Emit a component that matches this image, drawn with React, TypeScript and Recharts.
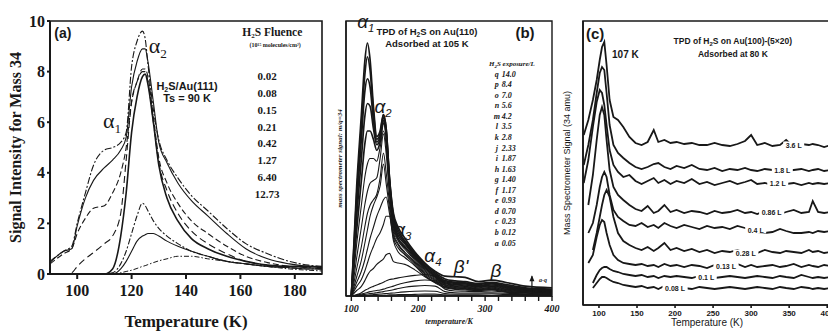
import { LineChart, Line, XAxis, YAxis, ReferenceArea, ReferenceDot, ReferenceLine } from 'recharts'

const ink = '#181818'
const serif = '"Liberation Serif", "Times New Roman", serif'
const sans = '"Liberation Sans", Arial, sans-serif'

// ---- (a) H2S/Au(111), Ts = 90 K ----
const tempA = [90, 95, 98, 100, 103, 106, 110, 113, 116, 118, 120, 122, 124, 125, 126, 128, 130, 133, 137, 142, 148, 155, 162, 170, 178, 185, 190]
const fluenceA = ['0.02', '0.08', '0.15', '0.21', '0.42', '1.27', '6.40', '12.73']
const a1273 = [0.5, 0.9, 1.1, 2.0, 3.2, 4.3, 4.9, 5.0, 5.2, 5.6, 8.2, 9.2, 9.6, 9.3, 8.3, 6.5, 5.3, 4.5, 3.8, 3.1, 2.5, 1.8, 1.2, 0.8, 0.5, 0.35, 0.3]
const a640 = [0.45, 0.9, 1.0, 1.9, 3.0, 3.7, 4.2, 4.5, 4.9, 5.4, 7.4, 8.4, 8.9, 8.9, 8.4, 6.8, 5.2, 4.4, 3.6, 2.9, 2.3, 1.6, 1.0, 0.6, 0.4, 0.3, 0.28]
const a127 = [0.4, 0.8, 1.0, 1.6, 2.2, 2.6, 2.7, 3.2, 4.0, 5.0, 6.8, 7.6, 8.1, 8.1, 7.8, 6.2, 4.6, 3.6, 2.8, 2.1, 1.6, 1.1, 0.7, 0.45, 0.3, 0.25, 0.2]
const a042 = [0, 0, 0.05, 0.3, 0.6, 0.85, 1.2, 1.5, 2.4, 4.5, 6.8, 7.6, 8.0, 8.0, 7.6, 6.0, 4.4, 3.3, 2.4, 1.7, 1.2, 0.8, 0.5, 0.35, 0.3, 0.25, 0.2]
const a021 = [0, 0, 0, 0, 0, 0, 0, 0.2, 1.5, 3.2, 5.6, 7.0, 7.8, 7.9, 7.5, 6.0, 4.3, 3.0, 2.1, 1.4, 1.0, 0.7, 0.5, 0.35, 0.3, 0.3, 0.25]
const a015 = [0, 0, 0, 0, 0, 0, 0, 0.05, 0.4, 0.9, 1.6, 2.3, 2.8, 2.7, 2.5, 2.1, 1.8, 1.5, 1.2, 0.9, 0.7, 0.5, 0.4, 0.3, 0.25, 0.2, 0.2]
const a008 = [0, 0, 0, 0, 0, 0, 0, 0, 0.2, 0.5, 0.9, 1.3, 1.5, 1.55, 1.6, 1.6, 1.5, 1.3, 1.1, 0.9, 0.7, 0.5, 0.4, 0.3, 0.25, 0.2, 0.2]
const a002 = [0, 0, 0, 0, 0, 0, 0, 0, 0.05, 0.1, 0.15, 0.22, 0.3, 0.33, 0.37, 0.45, 0.52, 0.6, 0.7, 0.7, 0.6, 0.5, 0.4, 0.3, 0.2, 0.15, 0.12]

// ---- (b) H2S on Au(110), adsorbed at 105 K ----
const tempB = [100, 108, 115, 120, 124, 128, 133, 138, 143, 148, 152, 157, 163, 170, 180, 195, 210, 225, 240, 255, 270, 290, 310, 330, 360, 400]
const letterB = ['q', 'p', 'o', 'n', 'm', 'l', 'k', 'j', 'i', 'h', 'g', 'f', 'e', 'd', 'c', 'b', 'a']
const exposureB = ['14.0', '8.4', '7.0', '5.6', '4.2', '3.5', '2.8', '2.33', '1.87', '1.63', '1.40', '1.17', '0.93', '0.70', '0.23', '0.12', '0.05']
const bq = [0, 4.0, 6.6, 8.5, 9.2, 8.6, 6.9, 5.8, 6.0, 6.6, 6.1, 4.3, 3.0, 2.5, 2.1, 1.6, 1.2, 0.9, 0.72, 0.7, 0.68, 0.52, 0.58, 0.5, 0.36, 0.3]
const bp = [0, 3.7, 6.2, 8.0, 8.7, 8.2, 6.7, 5.7, 5.9, 6.6, 6.1, 4.3, 2.9, 2.4, 2.0, 1.55, 1.15, 0.85, 0.62, 0.55, 0.52, 0.45, 0.5, 0.42, 0.3, 0.25]
const bo = [0, 3.3, 5.7, 7.4, 7.9, 7.6, 6.4, 5.6, 5.8, 6.5, 6.0, 4.2, 2.8, 2.3, 1.95, 1.5, 1.1, 0.8, 0.56, 0.5, 0.48, 0.42, 0.47, 0.38, 0.27, 0.22]
const bn = [0, 2.9, 5.0, 6.5, 7.0, 6.9, 6.1, 5.5, 5.7, 6.4, 5.9, 4.1, 2.7, 2.2, 1.9, 1.45, 1.05, 0.75, 0.52, 0.46, 0.44, 0.38, 0.44, 0.35, 0.25, 0.2]
const bm = [0, 2.4, 4.2, 5.5, 6.0, 6.0, 5.7, 5.3, 5.6, 6.3, 5.8, 4.0, 2.6, 2.1, 1.8, 1.4, 1.0, 0.72, 0.48, 0.42, 0.4, 0.35, 0.4, 0.32, 0.23, 0.18]
const bl = [0, 1.9, 3.3, 4.3, 4.8, 5.0, 5.0, 4.9, 5.4, 6.0, 5.5, 3.9, 2.5, 2.05, 1.75, 1.35, 0.95, 0.68, 0.45, 0.4, 0.37, 0.33, 0.37, 0.3, 0.21, 0.16]
const bk = [0, 1.4, 2.5, 3.3, 3.8, 4.1, 4.2, 4.3, 5.0, 5.9, 5.2, 3.7, 2.4, 2.0, 1.7, 1.3, 0.9, 0.64, 0.42, 0.37, 0.35, 0.3, 0.35, 0.28, 0.2, 0.15]
const bj = [0, 1.0, 1.8, 2.5, 3.0, 3.3, 3.5, 3.7, 4.3, 5.2, 4.5, 3.4, 2.3, 1.9, 1.6, 1.25, 0.85, 0.6, 0.4, 0.35, 0.33, 0.28, 0.32, 0.26, 0.18, 0.14]
const bi = [0, 0.7, 1.3, 1.9, 2.4, 2.9, 3.3, 3.6, 4.0, 4.8, 4.1, 3.2, 2.2, 1.85, 1.55, 1.2, 0.8, 0.56, 0.38, 0.33, 0.31, 0.26, 0.3, 0.24, 0.17, 0.13]
const bh = [0, 0.5, 0.9, 1.3, 1.7, 2.1, 2.5, 2.9, 3.2, 3.5, 3.6, 3.0, 2.1, 1.75, 1.5, 1.15, 0.75, 0.52, 0.35, 0.31, 0.29, 0.24, 0.28, 0.22, 0.16, 0.12]
const bg = [0, 0.35, 0.6, 0.9, 1.2, 1.5, 1.8, 2.1, 2.3, 2.6, 2.9, 2.9, 2.0, 1.6, 1.4, 1.1, 0.72, 0.5, 0.33, 0.29, 0.27, 0.23, 0.26, 0.2, 0.15, 0.11]
const bf = [0, 0.2, 0.35, 0.55, 0.75, 0.9, 1.0, 1.15, 1.25, 1.35, 1.5, 1.55, 1.25, 1.2, 1.15, 0.95, 0.7, 0.48, 0.3, 0.27, 0.25, 0.21, 0.24, 0.18, 0.13, 0.1]
const be = [0, 0.05, 0.12, 0.2, 0.25, 0.3, 0.35, 0.4, 0.45, 0.5, 0.55, 0.6, 0.62, 0.66, 0.7, 0.75, 0.78, 0.7, 0.3, 0.24, 0.22, 0.2, 0.22, 0.16, 0.12, 0.1]
const bd = [0, 0.03, 0.07, 0.1, 0.13, 0.16, 0.18, 0.2, 0.22, 0.25, 0.28, 0.32, 0.36, 0.42, 0.48, 0.55, 0.58, 0.55, 0.25, 0.18, 0.17, 0.16, 0.18, 0.14, 0.1, 0.08]
const bc = [0, 0.02, 0.04, 0.06, 0.07, 0.09, 0.1, 0.12, 0.14, 0.16, 0.18, 0.2, 0.23, 0.27, 0.32, 0.36, 0.38, 0.36, 0.16, 0.12, 0.11, 0.11, 0.12, 0.1, 0.08, 0.06]
const bb = [0, 0, 0.02, 0.03, 0.03, 0.04, 0.05, 0.06, 0.07, 0.08, 0.09, 0.1, 0.11, 0.13, 0.15, 0.17, 0.18, 0.17, 0.09, 0.07, 0.07, 0.07, 0.08, 0.06, 0.05, 0.05]
const ba = [0, 0, 0, 0.01, 0.01, 0.02, 0.02, 0.02, 0.03, 0.03, 0.03, 0.04, 0.04, 0.05, 0.05, 0.06, 0.07, 0.07, 0.04, 0.03, 0.03, 0.03, 0.03, 0.03, 0.02, 0.02]

// ---- (c) H2S on Au(100)-(5x20), adsorbed at 80 K (offset traces) ----
const tempC = [80, 86, 92, 97, 101, 104, 107, 110, 114, 119, 125, 132, 140, 148, 156, 164, 172, 178, 186, 194, 202, 212, 222, 232, 242, 252, 262, 272, 282, 292, 300, 308, 318, 328, 338, 346, 356, 366, 376, 381, 388, 396, 405]
const doseC = ['3.6 L', '1.8 L', '1.2 L', '0.86 L', '0.4 L', '0.28 L', '0.13 L', '0.1 L', '0.08 L']
const doseLabelTemp = [356, 341, 335, 327, 306, 293, 267, 241, 200]
const doseLabelLevel = [160, 135, 122, 93, 75, 52, 39, 28, 17]
const c36 = [170, 185, 205, 225, 245, 258, 263, 240, 205, 188, 185, 178, 168, 162, 160, 163, 175, 163, 165, 162, 163, 161, 162, 160, 160, 162, 160, 159, 161, 164, 170, 160, 162, 159, 160, 165, 158, 161, 160, 161, 160, 158, 160]
const c18 = [140, 160, 185, 212, 232, 238, 235, 212, 180, 160, 152, 147, 142, 138, 136, 138, 141, 142, 138, 136, 139, 137, 140, 136, 135, 137, 134, 136, 135, 137, 135, 134, 136, 135, 137, 134, 135, 136, 134, 135, 136, 134, 135]
const c12 = [122, 145, 178, 203, 215, 212, 200, 180, 155, 140, 133, 128, 130, 124, 121, 124, 127, 122, 125, 121, 124, 122, 126, 121, 123, 120, 122, 124, 121, 123, 125, 121, 122, 120, 123, 121, 122, 120, 122, 121, 122, 121, 122]
const c086 = [null, 100, 130, 165, 190, 198, 190, 165, 135, 118, 110, 105, 100, 96, 94, 99, 92, 94, 100, 93, 95, 92, 94, 93, 91, 94, 92, 93, 95, 92, 93, 91, 94, 92, 91, 93, 95, 92, 93, 104, 93, 92, 93]
const c04 = [null, 72, 82, 100, 118, 128, 133, 128, 110, 95, 88, 84, 80, 79, 82, 78, 80, 77, 82, 79, 77, 80, 78, 76, 79, 77, 78, 76, 79, 77, 75, 73, 72, 73, 76, 74, 72, 72, 73, 72, 74, 73, 74]
const c028 = [null, null, 55, 72, 88, 100, 110, 115, 108, 88, 72, 64, 60, 57, 55, 58, 54, 57, 62, 55, 57, 54, 56, 53, 55, 52, 54, 53, 55, 52, 54, 52, 55, 53, 52, 54, 53, 52, 55, 53, 54, 52, 53]
const c013 = [null, 42, 50, 68, 80, 85, 83, 72, 60, 50, 45, 42, 41, 40, 41, 39, 40, 38, 41, 39, 40, 38, 40, 39, 37, 40, 38, 39, 41, 38, 40, 38, 39, 40, 38, 39, 41, 38, 40, 39, 38, 40, 39]
const c01 = [null, null, 22, 30, 35, 37, 38, 38, 36, 34, 33, 31, 30, 29, 30, 28, 29, 27, 29, 28, 29, 28, 27, 29, 28, 27, 28, 29, 28, 27, 28, 29, 28, 27, 29, 28, 27, 30, 28, 27, 28, 27, 28]
const c008 = [null, null, 17, 22, 26, 28, 28, 27, 25, 23, 22, 20, 19, 18, 19, 17, 18, 16, 19, 17, 18, 17, 16, 18, 17, 16, 17, 18, 17, 16, 17, 18, 17, 16, 18, 17, 16, 18, 17, 16, 17, 16, 17]

const seriesA = [
  { values: a1273, dash: '7 2 2 2', w: 1.1 },
  { values: a640, dash: undefined, w: 1.1 },
  { values: a127, dash: '6 3', w: 1.1 },
  { values: a042, dash: '7 4', w: 1.1 },
  { values: a021, dash: undefined, w: 1.6 },
  { values: a015, dash: '6 2 2 2', w: 1.1 },
  { values: a008, dash: undefined, w: 1.1 },
  { values: a002, dash: '5 2 1.5 2', w: 1 },
]
const seriesB = [bq, bp, bo, bn, bm, bl, bk, bj, bi, bh, bg, bf, be, bd, bc, bb, ba]
const seriesC = [c36, c18, c12, c086, c04, c028, c013, c01, c008]

const rowsA = tempA.map((T, i) => {
  const r: any = { T }
  seriesA.forEach((s, j) => { r['s' + j] = s.values[i] })
  return r
})
const rowsB = tempB.map((T, i) => {
  const r: any = { T }
  seriesB.forEach((s, j) => { r['s' + j] = s[i] })
  return r
})
const rowsC = tempC.map((T, i) => {
  const r: any = { T }
  seriesC.forEach((s, j) => { r['s' + j] = s[i] })
  return r
})

// text anchored at a data point
function note(key: string, x: number, y: number, draw: (cx: number, cy: number) => any) {
  return <ReferenceDot key={key} x={x} y={y} r={0} ifOverflow="visible" shape={(p: any) => draw(p.cx, p.cy)} />
}

function yTitle(value: string, dx: number, style: any) {
  return {
    value,
    content: (p: any) => {
      const vb = p.viewBox || { x: 0, y: 0, width: 0, height: 0 }
      const cx = vb.x + dx
      const cy = vb.y + vb.height / 2
      return (
        <text x={cx} y={cy} transform={`rotate(-90 ${cx} ${cy})`} textAnchor="middle" dominantBaseline="central" fill={ink} {...style}>
          {value}
        </text>
      )
    },
  }
}

const alpha = (sub: string, size: number, font: string, italic: boolean) => (cx: number, cy: number) => (
  <text x={cx} y={cy} textAnchor="middle" fill={ink} fontFamily={font} fontSize={size} fontStyle={italic ? 'italic' : 'normal'}>
    {'α'}
    <tspan fontSize={size * 0.6} dy={size * 0.22}>{sub}</tspan>
  </text>
)

function PanelA() {
  return (
    <LineChart width={330} height={331} data={rowsA} margin={{ top: 21, right: 8, bottom: 0, left: 0 }}>
      <XAxis dataKey="T" type="number" domain={[90, 190]} ticks={[100, 120, 140, 160, 180]} height={57}
        stroke={ink} strokeWidth={2} tickSize={5} tickMargin={6}
        tick={{ fill: ink, fontFamily: serif, fontWeight: 700, fontSize: 16 }}
        label={{ value: 'Temperature (K)', position: 'insideBottom', offset: 4, fill: ink, fontFamily: serif, fontWeight: 700, fontSize: 17 }} />
      <YAxis type="number" domain={[0, 10]} ticks={[0, 2, 4, 6, 8, 10]} width={50}
        stroke={ink} strokeWidth={2} tickSize={3} tickMargin={2}
        tick={{ fill: ink, fontFamily: serif, fontWeight: 700, fontSize: 16 }}
        label={yTitle('Signal Intensity for Mass 34', 15, { fontFamily: serif, fontWeight: 700, fontSize: 16 })} />
      <ReferenceArea x1={90} x2={190} y1={0} y2={10} fill="none" stroke={ink} strokeWidth={1.6} ifOverflow="visible" />
      {seriesA.map((s, j) => (
        <Line key={j} dataKey={'s' + j} type="monotone" stroke={ink} strokeWidth={s.w} strokeDasharray={s.dash}
          dot={false} isAnimationActive={false} />
      ))}
      {note('tag', 91.6, 9.33, (cx, cy) => (
        <text x={cx} y={cy} fill={ink} fontFamily={sans} fontWeight={700} fontSize={14}>(a)</text>
      ))}
      {note('al2', 129.6, 8.73, alpha('2', 22, serif, false))}
      {note('al1', 112.8, 5.77, alpha('1', 22, serif, false))}
      {note('surf', 140.4, 7.27, (cx, cy) => (
        <text x={cx} y={cy} textAnchor="middle" fill={ink} fontFamily={sans} fontWeight={700} fontSize={11}>
          H<tspan fontSize={7} dy={2}>2</tspan><tspan dy={-2}>S/Au(111)</tspan>
          <tspan x={cx} dy={12}>Ts = 90 K</tspan>
        </text>
      ))}
      {note('legend', 171.7, 9.4, (cx, cy) => (
        <g fill={ink} fontFamily={serif} fontWeight={700}>
          <text x={cx} y={cy} textAnchor="middle" fontSize={11.5}>
            H<tspan fontSize={7} dy={2}>2</tspan><tspan dy={-2}>S Fluence</tspan>
          </text>
          <text x={cx + 3} y={cy + 11} textAnchor="middle" fontSize={6}>(10¹⁵ molecules/cm²)</text>
          {fluenceA.map((f, i) => (
            <text key={f} x={cx - 5} y={cy + 44 + i * 16.8} textAnchor="middle" fontSize={11}>{f}</text>
          ))}
        </g>
      ))}
    </LineChart>
  )
}

function PanelB() {
  const ticks = [100, 120, 140, 160, 180, 200, 220, 240, 260, 280, 300, 320, 340, 360, 380, 400]
  return (
    <LineChart width={260} height={331} data={rowsB} margin={{ top: 21, right: 8, bottom: 0, left: 0 }}>
      <XAxis dataKey="T" type="number" domain={[92, 400]} ticks={ticks} height={35}
        tickFormatter={(v: number) => (v % 100 === 0 ? String(v) : '')}
        stroke={ink} strokeWidth={1.4} tickSize={5} tickMargin={4}
        tick={{ fill: ink, fontFamily: serif, fontWeight: 700, fontStyle: 'italic', fontSize: 10 }}
        label={{ value: 'temperature/K', position: 'insideBottom', offset: 7, fill: ink, fontFamily: serif, fontWeight: 700, fontStyle: 'italic', fontSize: 8 }} />
      <YAxis type="number" domain={[0, 10]} width={46} tick={false} tickLine={false} stroke={ink} strokeWidth={1.4}
        label={yTitle('mass spectrometer signal: m/q=34', 40, { fontFamily: serif, fontWeight: 700, fontStyle: 'italic', fontSize: 7 })} />
      <ReferenceArea x1={92} x2={400} y1={0} y2={10} fill="none" stroke={ink} strokeWidth={1.4} ifOverflow="visible" />
      {seriesB.map((s, j) => (
        <Line key={j} dataKey={'s' + j} type="monotone" stroke={ink} strokeWidth={j < 5 ? 1.7 : 1.1}
          dot={false} isAnimationActive={false} />
      ))}
      <ReferenceLine segment={[{ x: 370, y: 0.02 }, { x: 370, y: 0.72 }]} stroke={ink} strokeWidth={1.2} ifOverflow="visible" />
      {note('arrow', 370, 0.72, (cx, cy) => (
        <g>
          <path d={`M${cx - 2.5},${cy + 5} L${cx},${cy - 1} L${cx + 2.5},${cy + 5} Z`} fill={ink} />
          <text x={cx + 7} y={cy + 6} fill={ink} fontFamily={serif} fontStyle="italic" fontWeight={700} fontSize={6}>a-q</text>
        </g>
      ))}
      {note('b1', 121.5, 9.75, alpha('1', 19, sans, true))}
      {note('b2', 147.3, 6.65, alpha('2', 19, sans, true))}
      {note('b3', 177, 2.18, alpha('3', 19, sans, true))}
      {note('b4', 222, 1.25, alpha('4', 19, sans, true))}
      {note('bp', 264, 0.85, (cx, cy) => (
        <text x={cx} y={cy} textAnchor="middle" fill={ink} fontFamily={sans} fontStyle="italic" fontSize={19}>β'</text>
      ))}
      {note('bb', 316, 0.7, (cx, cy) => (
        <text x={cx} y={cy} textAnchor="middle" fill={ink} fontFamily={sans} fontStyle="italic" fontSize={19}>β</text>
      ))}
      {note('title', 213, 9.49, (cx, cy) => (
        <text x={cx} y={cy} textAnchor="middle" fill={ink} fontFamily={sans} fontWeight={700} fontSize={9.5}>
          TPD of H<tspan fontSize={6.5} dy={2}>2</tspan><tspan dy={-2}>S on Au(110)</tspan>
          <tspan x={cx} dy={12}>Adsorbed at 105 K</tspan>
        </text>
      ))}
      {note('tag', 359.6, 9.38, (cx, cy) => (
        <text x={cx} y={cy} textAnchor="middle" fill={ink} fontFamily={sans} fontWeight={700} fontSize={15}>(b)</text>
      ))}
      {note('exp', 340, 8.36, (cx, cy) => (
        <g fill={ink} fontFamily={serif} fontWeight={700} fontStyle="italic">
          <text x={cx} y={cy} textAnchor="middle" fontSize={7}>
            H<tspan fontSize={5} dy={1.5}>2</tspan><tspan dy={-1.5}>S exposure/L</tspan>
          </text>
          {letterB.map((l, i) => (
            <g key={l}>
              <text x={cx - 15} y={cy + 10.5 + i * 10.56} textAnchor="middle" fontSize={8}>{l}</text>
              <text x={cx - 10} y={cy + 10.5 + i * 10.56} fontSize={8}>{exposureB[i]}</text>
            </g>
          ))}
        </g>
      ))}
    </LineChart>
  )
}

function PanelC() {
  return (
    <LineChart width={300} height={331} data={rowsC} margin={{ top: 21, right: 9, bottom: 0, left: 0 }}>
      <XAxis dataKey="T" type="number" domain={[79, 405]} ticks={[100, 150, 200, 250, 300, 350, 400]} height={26}
        stroke={ink} strokeWidth={1.6} tickSize={3} tickMargin={2}
        tick={{ fill: ink, fontFamily: sans, fontWeight: 700, fontSize: 8 }}
        label={{ value: 'Temperature (K)', position: 'insideBottom', offset: 5, fill: ink, fontFamily: sans, fontSize: 10 }} />
      <YAxis type="number" domain={[0, 284]} width={43} tick={false} tickLine={false} stroke={ink} strokeWidth={1.6}
        label={yTitle('Mass Spectrometer Signal (34 amu)', 27, { fontFamily: sans, fontSize: 9 })} />
      <ReferenceArea x1={79} x2={405} y1={0} y2={284} fill="none" stroke={ink} strokeWidth={1.6} ifOverflow="visible" />
      {seriesC.map((s, j) => (
        <Line key={j} dataKey={'s' + j} type="linear" stroke={ink} strokeWidth={1.8}
          dot={false} isAnimationActive={false} />
      ))}
      {doseC.map((d, i) => note('d' + i, doseLabelTemp[i], doseLabelLevel[i], (cx, cy) => (
        <g>
          <rect x={cx - d.length * 2.1} y={cy - 3.5} width={d.length * 4.2} height={7} fill="#fff" />
          <text x={cx} y={cy + 2.6} textAnchor="middle" fill={ink} fontFamily={sans} fontWeight={700} fontSize={7}>{d}</text>
        </g>
      )))}
      {note('tag', 83, 266, (cx, cy) => (
        <text x={cx} y={cy} fill={ink} fontFamily={sans} fontWeight={700} fontSize={15}>(c)</text>
      ))}
      {note('peak', 117.2, 247, (cx, cy) => (
        <text x={cx} y={cy} fill={ink} fontFamily={sans} fontWeight={700} fontSize={10}>107 K</text>
      ))}
      {note('title', 276, 261, (cx, cy) => (
        <text x={cx} y={cy} textAnchor="middle" fill={ink} fontFamily={sans} fontWeight={700} fontSize={8.5}>
          TPD of H<tspan fontSize={6} dy={2}>2</tspan><tspan dy={-2}>S on Au(100)-(5×20)</tspan>
          <tspan x={cx} dy={13}>Adsorbed at 80 K</tspan>
        </text>
      ))}
    </LineChart>
  )
}

export default function App() {
  return (
    <div style={{ position: 'fixed', left: 0, top: 0, width: 828, height: 331, overflow: 'hidden', background: '#fff' }}>
      <div style={{ position: 'absolute', left: 0, top: 0 }}><PanelA /></div>
      <div style={{ position: 'absolute', left: 300, top: 0 }}><PanelB /></div>
      <div style={{ position: 'absolute', left: 540, top: 0 }}><PanelC /></div>
    </div>
  )
}
